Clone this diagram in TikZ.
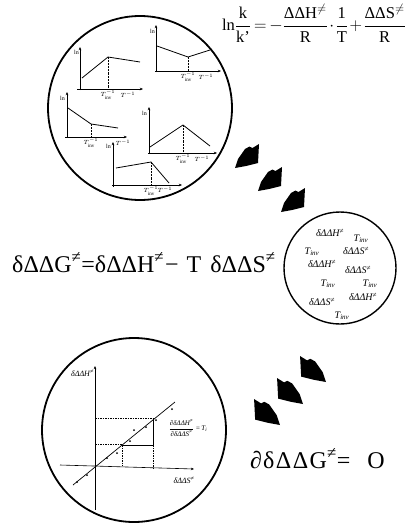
\documentclass[tikz,border=0pt]{standalone}
\usepackage{amsmath}
\usepackage{fontspec}
\setmainfont{Liberation Serif}
\usetikzlibrary{arrows.meta}

\tikzset{
  ring/.style={circle, draw, inner sep=0pt},
  axis/.style={line width=0.6pt, -{Stealth[length=3.2pt,width=2.6pt]}},
  plotline/.style={line width=0.8pt},
  guide/.style={line width=0.45pt, densely dotted},
  dashguide/.style={line width=0.45pt, dash pattern=on 1.6pt off 0.9pt},
  minilbl/.style={inner sep=0pt, font=\fontsize{6}{7}\selectfont},
  midlbl/.style={inner sep=0pt, font=\fontsize{10}{12}\selectfont\itshape},
  lowlbl/.style={inner sep=0pt, font=\fontsize{8}{9}\selectfont\itshape},
  bigeq/.style={anchor=base west, inner sep=0pt, font=\fontsize{24}{28}\selectfont},
  % solid block arrow, drawn from its lower spike towards its upper tip
  blockarrow/.pic={
    \fill (0,0) -- (11,-2) -- (23,-5) -- (24,-24) -- (17.5,-20)
      -- (14.5,-21.5) -- (10,-19) -- (3,-9) -- cycle;
  }
}

\begin{document}
\begin{tikzpicture}[x=1pt, y=-1pt]
\useasboundingbox (0,0) rectangle (417,523);

% ---------- upper circle with five ln k vs 1/T sketches ----------
\node[ring, line width=1.8pt, minimum size=184pt] (topring) at (140,108) {};

% sketch A
\draw[axis] (80,90) -- (80,47);
\draw[axis] (77,89) -- (143,89);
\draw[plotline] (82,78) -- (108,57) -- (140,62);
\draw[guide] (108,57) -- (108,89);
\node[minilbl, anchor=east] (lnA) at (79,52) {ln};
\node[minilbl] (tiA) at (108,95) {$T^{-1}_{\mathrm{inv}}$};
\node[minilbl] (tA) at (128,95) {$T^{-1}$};

% sketch B
\draw[axis] (156,72) -- (156,25);
\draw[axis] (155,71) -- (221,71);
\draw[plotline] (157,46) -- (188,57) -- (210,50);
\draw[guide] (188,57) -- (188,71);
\node[minilbl, anchor=east] (lnB) at (155,31) {ln};
\node[minilbl] (tiB) at (188,77) {$T^{-1}_{\mathrm{inv}}$};
\node[minilbl] (tB) at (206,77) {$T^{-1}$};

% sketch C
\draw[axis] (67,137) -- (67,92);
\draw[axis] (65,137) -- (127,137);
\draw[plotline] (68,108) -- (91,124) -- (118,128);
\draw[guide] (91,124) -- (91,137);
\node[minilbl, anchor=east] (lnC) at (65,98) {ln};
\node[minilbl] (tiC) at (91,143) {$T^{-1}_{\mathrm{inv}}$};
\node[minilbl] (tC) at (123,143) {$T^{-1}$};

% sketch D
\draw[axis] (149,153) -- (149,107);
\draw[axis] (148,153) -- (217,153);
\draw[plotline] (150,147) -- (183,125) -- (210,146);
\draw[guide] (183,125) -- (183,153);
\node[minilbl, anchor=east] (lnD) at (147,113) {ln};
\node[minilbl] (tiD) at (183,159) {$T^{-1}_{\mathrm{inv}}$};
\node[minilbl] (tD) at (202,159) {$T^{-1}$};

% sketch E
\draw[axis] (113,187) -- (113,142);
\draw[axis] (112,185) -- (182,185);
\draw[plotline] (116,168) -- (151,162) -- (169,183);
\draw[guide] (151,162) -- (151,185);
\node[minilbl, anchor=east] (lnE) at (111,146) {ln};
\node[minilbl] (tiE) at (151,191) {$T^{-1}_{\mathrm{inv}}$};
\node[minilbl] (tE) at (165,190) {$T^{-1}$};

% ---------- equations ----------
\node[inner sep=0pt, font=\fontsize{16.5}{20}\selectfont] (eqtop) at (314,23)
  {\thickmuskip=3mu \medmuskip=1.5mu
   $\displaystyle \text{ln}\frac{\text{k}}{\text{k'}}=-\frac{\text{ΔΔH}^{\neq}}{\text{R}}\cdot\frac{\text{1}}{\text{T}}+\frac{\text{ΔΔS}^{\neq}}{\text{R}}$};

\node[bigeq] (eqmid) at (12,272)
  {δΔΔG\textsuperscript{≠}=δΔΔH\textsuperscript{≠}\hspace{1pt}−\hspace{8pt}T\hspace{9pt}δΔΔS\textsuperscript{≠}};

\node[bigeq] (eqlow) at (250,468)
  {∂\hspace{1pt}δ\hspace{1.5pt}Δ\hspace{1.5pt}Δ\hspace{1.5pt}G\textsuperscript{≠}=\hspace{17pt}O};

% ---------- block arrows ----------
\pic at (235,168) {blockarrow};
\pic at (258,191) {blockarrow};
\pic at (281,212) {blockarrow};

\pic[xscale=-1.08, yscale=1.08] at (280,425) {blockarrow};
\pic[xscale=-1.08, yscale=1.08] at (303,404) {blockarrow};
\pic[xscale=-1.08, yscale=1.08] at (326,382) {blockarrow};

% ---------- middle circle with scattered quantities ----------
\node[ring, line width=1.4pt, minimum size=112pt] (midring) at (340,268) {};
\node[midlbl] (h1) at (330,233) {δΔΔH\textsuperscript{≠}};
\node[midlbl] (t1) at (361,239) {T\textsubscript{inv}};
\node[midlbl] (t2) at (312,252) {T\textsubscript{inv}};
\node[midlbl] (s1) at (356,251) {δΔΔS\textsuperscript{≠}};
\node[midlbl] (h2) at (322,264) {δΔΔH\textsuperscript{≠}};
\node[midlbl] (s2) at (358,270) {δΔΔS\textsuperscript{≠}};
\node[midlbl] (t3) at (328,284) {T\textsubscript{inv}};
\node[midlbl] (t4) at (370,284) {T\textsubscript{inv}};
\node[midlbl] (h3) at (363,297) {δΔΔH\textsuperscript{≠}};
\node[midlbl] (s3) at (322,302) {δΔΔS\textsuperscript{≠}};
\node[midlbl] (t5) at (342,316) {T\textsubscript{inv}};

% ---------- lower circle: enthalpy-entropy plot ----------
\node[ring, line width=1.8pt, minimum size=184pt] (lowring) at (134,430) {};
\draw[axis] (95,510) -- (95,366);
\draw[axis] (60,465) -- (194,469);
\draw[line width=0.7pt] (73,485) -- (175,402);
\draw[dashguide] (95,418) -- (153,418);
\draw[dashguide] (95,444) -- (122,444);
\draw[dashguide] (122,445) -- (122,466);
\draw[dashguide] (153,445) -- (153,468);
\draw[line width=0.6pt] (122,445) -- (153,445) -- (153,418);
\foreach \p in {(77,482),(87,475),(107,458),(117,453),(130,441),(134,430),(146,427),(156,420),(172,409)}
  \fill \p circle (1pt);
\node[lowlbl, anchor=east] (yl) at (94,373) {δΔΔH\textsuperscript{≠}};
\node[lowlbl] (xl) at (184,480) {δΔΔS\textsuperscript{≠}};
\node[inner sep=0pt, font=\fontsize{7}{8}\selectfont\itshape] (slope) at (188,428)
  {$\dfrac{\text{∂δΔΔH\textsuperscript{≠}}}{\text{∂δΔΔS\textsuperscript{≠}}}$\,=\,T\textsubscript{i}};
\end{tikzpicture}
\end{document}
